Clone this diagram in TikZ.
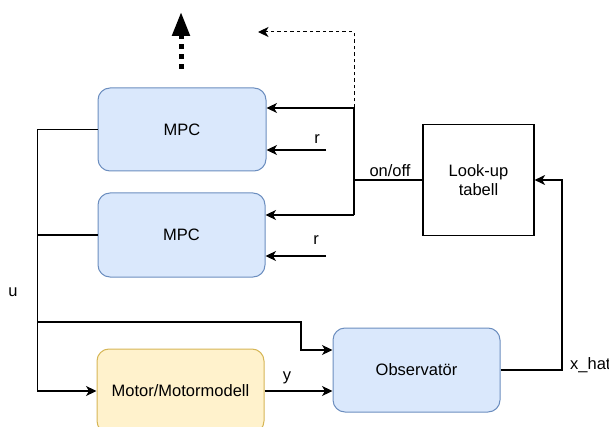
\documentclass[tikz,border=0pt]{standalone}
\usepackage{fontspec}
\setmainfont{Liberation Sans}
\usetikzlibrary{arrows.meta}
\definecolor{bfill}{HTML}{DAE8FC}
\definecolor{bline}{HTML}{6C8EBF}
\definecolor{yfill}{HTML}{FFF2CC}
\definecolor{yline}{HTML}{D6B656}
\begin{document}
\begin{tikzpicture}[x=1pt,y=-1pt,
  font=\fontsize{16.5}{19}\selectfont,
  blk/.style={draw=bline, fill=bfill, rounded corners=12pt, line width=1pt, inner sep=0pt},
  yblk/.style={draw=yline, fill=yfill, rounded corners=12pt, line width=1pt, inner sep=0pt},
  sqbox/.style={draw=black, line width=1.2pt, align=center, inner sep=0pt},
  wire/.style={line width=1.2pt},
  arr/.style={wire, -{Stealth[length=10.5pt,width=10pt,inset=3pt]}},
  dasharr/.style={arr, line width=1pt, dash pattern=on 3.5pt off 3pt},
  lbl/.style={inner sep=0pt}]
\useasboundingbox (0,0) rectangle (609,427);

% blocks
\node[blk, minimum width=168pt, minimum height=83pt] (mpc1) at (182,129.5) {MPC};
\node[blk, minimum width=167pt, minimum height=84pt] (mpc2) at (181.5,235) {MPC};
\node[sqbox, minimum width=111pt, minimum height=111pt] (lookup) at (478.5,180) {Look-up\\tabell};
\node[blk, minimum width=167pt, minimum height=84pt] (obs) at (416.5,370) {Observatör};
\node[yblk, minimum width=167pt, minimum height=84pt] (motor) at (180.5,391) {Motor/Motormodell};

% helper coordinates
\coordinate (jtop) at (354,108);
\coordinate (jmid) at (354,180);
\coordinate (jbot) at (354,215);
\coordinate (dcorner) at (354,32);
\coordinate (dend) at (258,32);
\coordinate (r1) at (326,150);
\coordinate (r2) at (326,256);
\coordinate (xcorner) at (562,370);
\coordinate (ujoin) at (38,322);
\coordinate (ucorner) at (301,322);
\coordinate (oinrow) at (0,350);
\coordinate (up0) at (181,69);
\coordinate (up1) at (181,12);

% thick dotted arrow up
\draw[line width=5pt, dash pattern=on 5pt off 5pt, -{Triangle[length=24pt,width=17pt]}] (up0) -- (up1);

% dashed feedback
\draw[dasharr] (jtop) -- (dcorner) -- (dend);

% on/off distribution
\draw[wire] (lookup.west) -- (jmid);
\draw[wire] (jtop) -- (jbot);
\draw[arr] (jtop) -- (jtop -| mpc1.east);
\draw[arr] (jbot) -- (jbot -| mpc2.east);
\node[lbl] (onoff) at (390,171) {on/off};

% references
\draw[arr] (r1) -- (r1 -| mpc1.east);
\draw[arr] (r2) -- (r2 -| mpc2.east);
\node[lbl] (rl1) at (317,139) {r};
\node[lbl] (rl2) at (316,240) {r};

% control signal bus
\draw[arr] (mpc1.west) -- ++(-60,0) coordinate (b1) |- (motor.west);
\draw[wire] (mpc2.west) -- (mpc2.west -| b1);
\draw[arr] (ujoin) -- (ucorner) |- (obs.west |- oinrow);
\node[lbl] (ul) at (13,292) {u};

% measurement
\draw[arr] (motor.east) -- (motor.east -| obs.west);
\node[lbl] (yl) at (287,378) {y};

% estimate to lookup
\draw[arr] (obs.east) -- (xcorner) |- (lookup.east);
\node[lbl, anchor=west] (xl) at (570,365) {x\_hat};
\end{tikzpicture}
\end{document}
